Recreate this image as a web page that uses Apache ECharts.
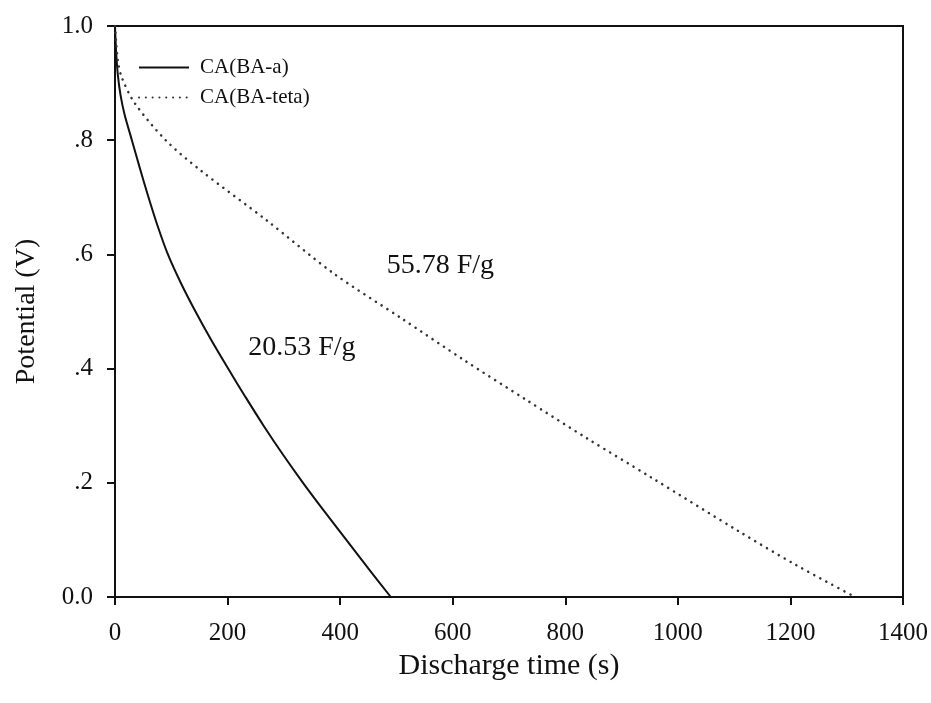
<!DOCTYPE html>
<html>
<head>
<meta charset="utf-8">
<script src="https://cdn.jsdelivr.net/npm/echarts@6/dist/echarts.min.js"></script>
<style>
  html, body { margin: 0; padding: 0; background: #fff; }
  #chart { width: 931px; height: 703px; }
</style>
</head>
<body>
<div id="chart"></div>
<script>
// Galvanostatic discharge curves: [time (s), potential (V)]
const seriesNames = ['CA(BA-a)', 'CA(BA-teta)'];
const dischargeBAa = [
  [0, 1.0], [2, 0.955], [5, 0.915], [10, 0.878], [17, 0.845], [30, 0.80],
  [43, 0.755], [58, 0.705], [75, 0.652], [94, 0.60], [117, 0.55], [143, 0.50],
  [171, 0.45], [201, 0.40], [232, 0.35], [264, 0.30], [298, 0.25],
  [334, 0.20], [372, 0.15], [411, 0.10], [450, 0.05], [490, 0.0]
];
const dischargeBAteta = [
  [0, 1.0], [5, 0.94], [12, 0.91], [35, 0.865], [90, 0.80], [151, 0.748],
  [269, 0.66], [388, 0.567], [509, 0.488], [620, 0.415], [731, 0.345],
  [840, 0.277], [950, 0.211], [1110, 0.114], [1210, 0.056], [1315, 0.0]
];
const capacitanceLabels = ['20.53 F/g', '55.78 F/g'];
const xTicks = [0, 200, 400, 600, 800, 1000, 1200, 1400];
const yTickText = { 0: '0.0', 0.2: '.2', 0.4: '.4', 0.6: '.6', 0.8: '.8', 1: '1.0' };

const serif = '"Liberation Serif", "DejaVu Serif", serif';
const ink = '#111';

const chart = echarts.init(document.getElementById('chart'), null, { renderer: 'canvas' });

chart.setOption({
  backgroundColor: '#fff',
  animation: false,
  grid: {
    left: 115, right: 28, top: 26, bottom: 106,
    show: true, borderColor: ink, borderWidth: 2, backgroundColor: 'transparent'
  },
  legend: {
    orient: 'vertical',
    left: 138, top: 57, padding: 0,
    itemWidth: 50, itemHeight: 14, itemGap: 9,
    data: seriesNames,
    itemStyle: { opacity: 0 },
    textStyle: { fontFamily: serif, fontSize: 21, lineHeight: 20, color: ink, padding: [0, 0, 0, 6] }
  },
  xAxis: {
    type: 'value',
    min: xTicks[0], max: xTicks[xTicks.length - 1], interval: 200,
    name: 'Discharge time (s)', nameLocation: 'middle', nameGap: 47,
    nameTextStyle: { fontFamily: serif, fontSize: 30, color: ink },
    axisLine: { show: true, lineStyle: { color: ink, width: 2 } },
    axisTick: { show: true, inside: false, length: 8, lineStyle: { color: ink, width: 2 } },
    axisLabel: { fontFamily: serif, fontSize: 25, color: ink, margin: 24, formatter: v => String(v) },
    splitLine: { show: false }
  },
  yAxis: {
    type: 'value',
    min: 0, max: 1, interval: 0.2,
    name: 'Potential (V)', nameLocation: 'middle', nameGap: 74, nameRotate: 90,
    nameTextStyle: { fontFamily: serif, fontSize: 28, color: ink },
    axisLine: { show: true, lineStyle: { color: ink, width: 2 } },
    axisTick: { show: true, inside: false, length: 8, lineStyle: { color: ink, width: 2 } },
    axisLabel: {
      fontFamily: serif, fontSize: 25, color: ink, margin: 22,
      formatter: v => yTickText[Math.round(v * 10) / 10] ?? String(v)
    },
    splitLine: { show: false }
  },
  series: [
    {
      name: seriesNames[0], type: 'line', data: dischargeBAa,
      smooth: 0.3, symbol: 'none',
      lineStyle: { color: ink, width: 2 },
      itemStyle: { color: ink },
      markPoint: {
        symbol: 'circle', symbolSize: 0,
        label: { show: true, formatter: capacitanceLabels[0], fontFamily: serif, fontSize: 28, color: ink },
        data: [{ coord: [332, 0.436] }]
      }
    },
    {
      name: seriesNames[1], type: 'line', data: dischargeBAteta,
      smooth: 0.3, symbol: 'none',
      lineStyle: { color: '#333', width: 2.5, type: [0.1, 6.7], cap: 'round' },
      itemStyle: { color: '#333' },
      markPoint: {
        symbol: 'circle', symbolSize: 0,
        label: { show: true, formatter: capacitanceLabels[1], fontFamily: serif, fontSize: 28, color: ink },
        data: [{ coord: [578, 0.58] }]
      }
    }
  ]
});
</script>
</body>
</html>
